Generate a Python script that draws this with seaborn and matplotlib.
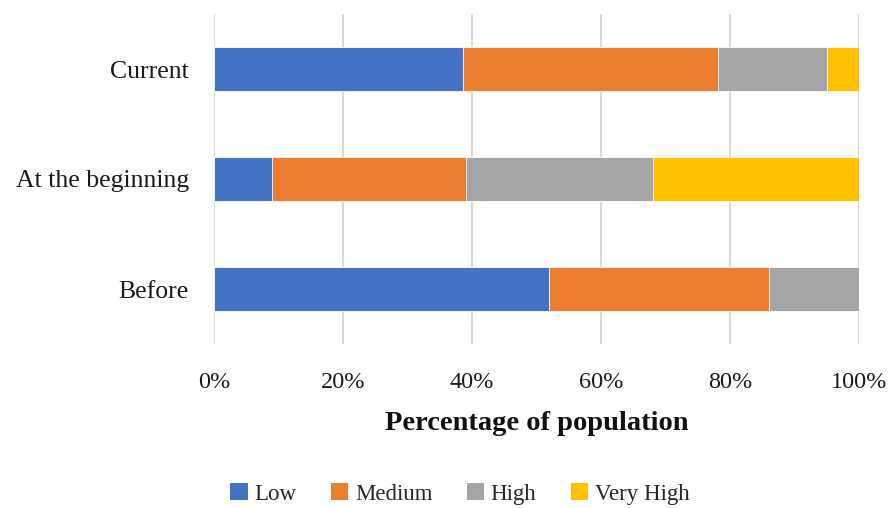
import matplotlib
matplotlib.use("Agg")
import matplotlib.pyplot as plt
import seaborn as sns
import pandas as pd
from matplotlib.patches import Patch

# Share of population in each level, per period (percent)
periods = ["Current", "At the beginning", "Before"]
levels = ["Low", "Medium", "High", "Very High"]
low = [38.6, 9.0, 52.0]
medium = [39.5, 30.0, 34.0]
high = [16.9, 29.0, 14.0]
very_high = [5.0, 32.0, 0.0]
colors = ["#4472C4", "#ED7D31", "#A5A5A5", "#FFC000"]
xticks = [0, 20, 40, 60, 80, 100]

sns.set_theme(style="white")
plt.rcParams["font.family"] = ["Liberation Serif", "DejaVu Serif"]

df = pd.DataFrame({"period": periods, "Low": low, "Medium": medium,
                   "High": high, "Very High": very_high})
cum = df[levels].cumsum(axis=1)

fig = plt.figure(figsize=(8.88, 5.08), dpi=100)
ax = fig.add_axes([214 / 888, 1 - 344 / 508, 645 / 888, 330 / 508])

# stacked bars: draw the cumulative totals from the outermost segment inward
for lvl, col in reversed(list(zip(levels, colors))):
    sns.barplot(x=cum[lvl], y=df["period"], orient="h", color=col, saturation=1,
                width=0.4, edgecolor="white", linewidth=0.6, ax=ax, zorder=3)

ax.set_xlim(0, 100)
ax.set_ylim(2.5, -0.5)
ax.set_xticks(xticks)
ax.set_xticklabels([f"{t}%" for t in xticks], fontsize=17.5, color="#1a1a1a")
ax.tick_params(axis="x", length=0, pad=20)
ax.tick_params(axis="y", length=0, pad=18, labelsize=18.5, labelcolor="#1a1a1a")
ax.xaxis.grid(True, color="#d9d9d9", linewidth=1.5, zorder=0)
ax.yaxis.grid(False)
for s in ax.spines.values():
    s.set_visible(False)
ax.set_ylabel("")
ax.set_xlabel("Percentage of population", fontsize=20.5, fontweight="bold",
              labelpad=13, color="#111111")

handles = [Patch(facecolor=c, edgecolor="none") for c in colors]
fig.legend(handles, levels, loc="center", bbox_to_anchor=(460 / 888, 1 - 494 / 508),
           ncol=4, frameon=False, fontsize=16.5, handlelength=0.75, handleheight=0.75,
           handletextpad=0.3, columnspacing=1.5)

fig.savefig("out.png", dpi=100)
